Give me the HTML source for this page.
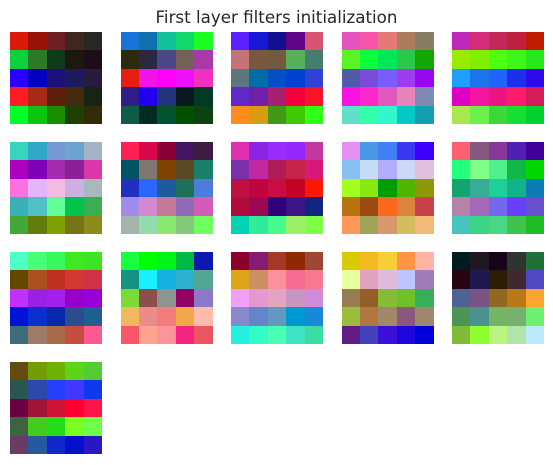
<!DOCTYPE html>
<html><head><meta charset="utf-8"><style>
html,body{margin:0;padding:0;background:#fff;}
#root{position:relative;width:553px;height:465px;overflow:hidden;}
#title{position:absolute;left:0;width:553px;top:7px;text-align:center;font-family:"DejaVu Sans","Liberation Sans",sans-serif;font-size:16.7px;color:#262626;}
.cell{position:absolute;}
</style></head><body>
<div id="root">
<div id="title">First layer filters initialization</div>
</div>
<script>
const filters = [
["#dc1a0c","#991208","#6e1e20","#402620","#262824","#0cd03c","#2c7a28","#103a1a","#1c1810","#200c18","#2a00ff","#0400c0","#1a1278","#1e1a60","#261c40","#fe1c24","#a82a16","#5e200e","#462a0c","#162414","#00ff28","#0cc410","#1a8c00","#1e4000","#322a08"],
["#1874d8","#1070b0","#14c098","#10d86c","#18ff20","#2c2c0c","#2c2840","#4c4888","#746058","#a83aa8","#e81c10","#f014e8","#ff00ff","#ee10f8","#f030c0","#301e88","#2000f0","#24347a","#0a1a20","#043a24","#0e5c48","#002a24","#005430","#005000","#0c4210"],
["#5a20ff","#1818d4","#140e90","#600488","#d85470","#c47478","#7a5840","#745a3c","#58b058","#447e70","#5c7680","#006ca8","#0050c4","#0042d0","#3242d4","#6028c8","#7020a8","#a82070","#f4003c","#f81428","#ff8c1c","#d89c10","#449818","#40c800","#30ff18"],
["#e454c0","#f854a8","#e87878","#a87c5c","#887c64","#58f424","#0cff3c","#00e858","#2cc84c","#10a800","#505ca8","#7c4cd8","#785cfc","#a03cf0","#9808f0","#f814e0","#fc28cc","#e058c0","#e484b8","#8088b4","#60e0c8","#34ffac","#30f8cc","#04c8c8","#10a0b0"],
["#c028b8","#d42c78","#c42858","#c02040","#c01c00","#98ec00","#80f000","#4cff10","#3cf818","#28e81c","#1ca0fc","#1c74ec","#2064fc","#1c30ec","#3008ec","#e000c4","#f414a0","#ec1480","#fc1c6c","#d41c58","#a8e84c","#6cf04c","#3cd838","#14e034","#00d030"],
["#38d4c0","#30a8c8","#7498d4","#6ca4d0","#a4b4c4","#ac00c0","#8000b8","#a42cb0","#8c2098","#d838a8","#fc70e0","#e4b4fc","#f4bce0","#ccb0e4","#a8b8bc","#38b0b4","#50c0c4","#60ff98","#00c44c","#38b050","#44a838","#647c0c","#80a000","#747414","#8c8c1c"],
["#fe2050","#d8084c","#880034","#441460","#3c1c40","#005464","#807870","#804400","#584824","#188068","#2030bc","#2868ff","#1c5c9c","#1e705c","#4c7cdc","#a08ce8","#d488d0","#c47898","#906cb8","#d45cb8","#a4b4ac","#90dcac","#88e870","#84c87c","#70ff60"],
["#e030b0","#8c24e4","#982cfc","#9628fc","#c038a0","#7c30ac","#c028a4","#b01c58","#c42448","#d81878","#c01040","#c00440","#c80c44","#c40424","#fc1800","#b00c3c","#9c0854","#300078","#3c1488","#102480","#00d4b0","#30ec98","#48fc8c","#9cf068","#80ff48"],
["#e490f0","#4c98e8","#4080f4","#3c38f0","#4000ff","#88c0f4","#c4dcf4","#b4acfc","#ccd8f8","#e0c0dc","#a4ff20","#88e810","#009c00","#50b400","#8c9804","#b87410","#9c4c10","#fc681c","#dc843c","#c84048","#ff9858","#a0a458","#d8986c","#d4bc60","#f4b878"],
["#ff6070","#845880","#883898","#5020b4","#400098","#24ff80","#80ff88","#50f08c","#10b848","#00d800","#14a470","#38ac98","#1cd098","#10b488","#0c7cb4","#b484a8","#a468b8","#7468ec","#6840fc","#6850cc","#48c4c0","#3cd488","#48d884","#3cc44c","#20bc28"],
["#50ffc8","#48ff78","#38f860","#40e820","#3ce424","#644800","#ac5020","#c03020","#d43630","#d03048","#c030ff","#9c20e4","#a420ec","#9800c8","#9800d8","#0014d8","#0830d0","#0828ac","#2c4c8c","#206090","#3e6c7c","#9c7c68","#a86a48","#c44c40","#ff5890"],
["#18ff40","#00ff00","#00f418","#00b844","#0c18b0","#149480","#18f0ff","#14b0e0","#30b0d0","#50a894","#78dc34","#8c504c","#8c9494","#940064","#8c78c8","#f0b860","#ec8c88","#f47c7c","#f0a848","#ffbcac","#fc5468","#fca48c","#fc949c","#f42480","#ec5460"],
["#8c002c","#841c74","#a43828","#902800","#9c4834","#dca418","#cc9064","#fc909c","#f86c94","#f87890","#f0a0f8","#e498d0","#e4a4c0","#c894c0","#d08cd8","#8888cc","#6484cc","#6498c4","#0098d0","#1888d8","#24f0e0","#34fcc8","#48ffb4","#40e4c4","#38dca4"],
["#d8cc00","#f0bc20","#f4d034","#ff9444","#ffb4a4","#e8ffa0","#e0a4bc","#e0bcdc","#c0c4ff","#a07cb8","#987c54","#945e28","#88bc38","#70c02c","#34b058","#9cbc3c","#b07840","#a08868","#8c5880","#a08870","#601c84","#4440bc","#3a10d8","#1c08dc","#0000dc"],
["#001c20","#201820","#180418","#303430","#207038","#280410","#201850","#2c1c04","#402830","#5048c0","#4c6494","#785484","#906820","#b87818","#ffa430","#4c9454","#4c9090","#74b464","#78b070","#70f070","#80bc38","#90ff30","#bcf480","#b0e4a8","#bce8fc"],
["#644c10","#749c04","#6cb400","#5cd418","#54cc34","#2c5450","#2c48a8","#2440fc","#4038fc","#1038ec","#6c0040","#a01438","#d01438","#ff0030","#ff1448","#3c6440","#44cc1c","#24dc1c","#7cff20","#70ff48","#683c64","#2858a0","#1028c8","#0410cc","#2818c4"]
];
const root = document.getElementById('root');
const cols = 5, tile = 92, cell = tile / 5;
function tileX(i){ return 10 + (i % cols) * 110.5; }
function tileY(i){ return 32 + Math.floor(i / cols) * 110; }
filters.forEach((f, i) => {
  const t = document.createElement('div');
  
  
  t.style.cssText = 'position:absolute;left:' + tileX(i) + 'px;top:' + tileY(i) + 'px;width:' + tile + 'px;height:' + tile + 'px;';
  f.forEach((c, k) => {
    const d = document.createElement('div');
    
    
    d.className = 'cell';
    d.style.left = ((k % 5) * cell) + 'px';
    d.style.top = (Math.floor(k / 5) * cell) + 'px';
    d.style.width = (cell + 0.5) + 'px';
    d.style.height = (cell + 0.5) + 'px';
    d.style.background = c;
    t.appendChild(d);
  });
  root.appendChild(t);
});
</script>
</body></html>
